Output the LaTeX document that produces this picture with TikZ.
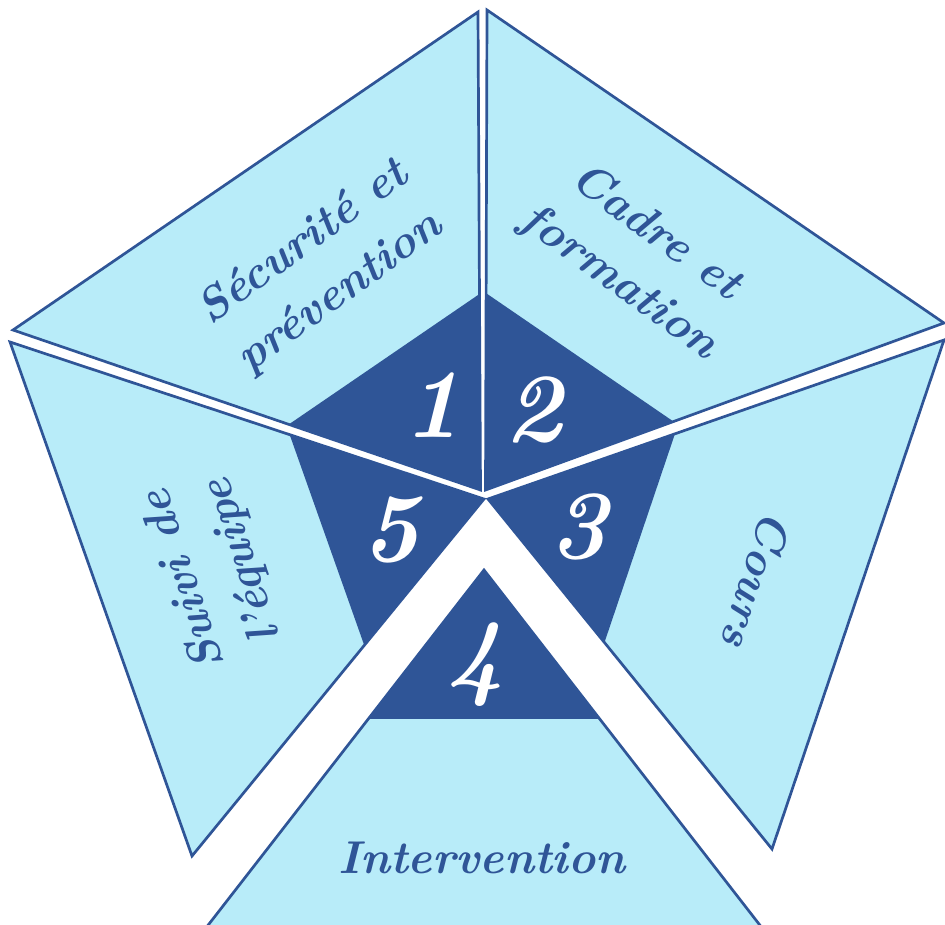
\documentclass[tikz,border=0pt]{standalone}
\usepackage{fontspec}
\usetikzlibrary{calc}
\definecolor{lightfill}{HTML}{B8ECF9}
\definecolor{darkblue}{HTML}{2F5597}
\tikzset{
  sectorbox/.style={fill=lightfill, draw=darkblue, line width=2.7pt, line join=miter},
  corebox/.style={fill=darkblue, draw=none},
  labeltext/.style={text=darkblue, font=\fontsize{46}{62}\selectfont\bfseries\itshape, align=center, inner sep=0pt},
  numtext/.style={text=white, font=\fontsize{98}{98}\selectfont\bfseries\itshape, inner sep=0pt},
}
\begin{document}
\begin{tikzpicture}[x=1pt,y=-1pt]
\useasboundingbox (0,0) rectangle (945,924);
\begin{scope}
\clip (0,0) rectangle (945,924);
% sector 1
\coordinate (A1) at (480.5,490); \coordinate (P1) at (478,12); \coordinate (Q1) at (13,330);
% sector 2
\coordinate (A2) at (485.5,490); \coordinate (P2) at (487,10); \coordinate (Q2) at (944,323);
% sector 3
\coordinate (A3) at (488,499); \coordinate (P3) at (944,340); \coordinate (Q3) at (772,849);
% sector 4
\coordinate (A4) at (484,570); \coordinate (P4) at (766,933); \coordinate (Q4) at (202,933);
% sector 5
\coordinate (A5) at (484,499); \coordinate (P5) at (192,856); \coordinate (Q5) at (10,342);
\foreach \i in {1,...,5}{
  \draw[sectorbox] (A\i) -- (P\i) -- (Q\i) -- cycle;
}
\foreach \i in {1,...,5}{
  \fill[corebox] (A\i) -- ($(A\i)!0.41!(P\i)$) -- ($(A\i)!0.41!(Q\i)$) -- cycle;
}
\end{scope}
% labels
\node[labeltext, rotate=36] (lab1) at (322,268) {Sécurité et\\prévention};
\node[labeltext, rotate=-36] (lab2) at (637,258) {Cadre et\\formation};
\node[labeltext, rotate=-108] (lab3) at (757,580) {Cours};
\node[labeltext] (lab4) at (482,858) {Intervention};
\node[labeltext, rotate=108] (lab5) at (214,570) {Suivi de\\l'équipe};
% numbers
\node[numtext] (n1) at (432,405) {1};
\node[numtext] (n2) at (533,410) {2};
\node[numtext] (n3) at (578,527) {3};
\node[numtext] (n4) at (475,665) {4};
\node[numtext] (n5) at (390,530) {5};
\end{tikzpicture}
\end{document}
